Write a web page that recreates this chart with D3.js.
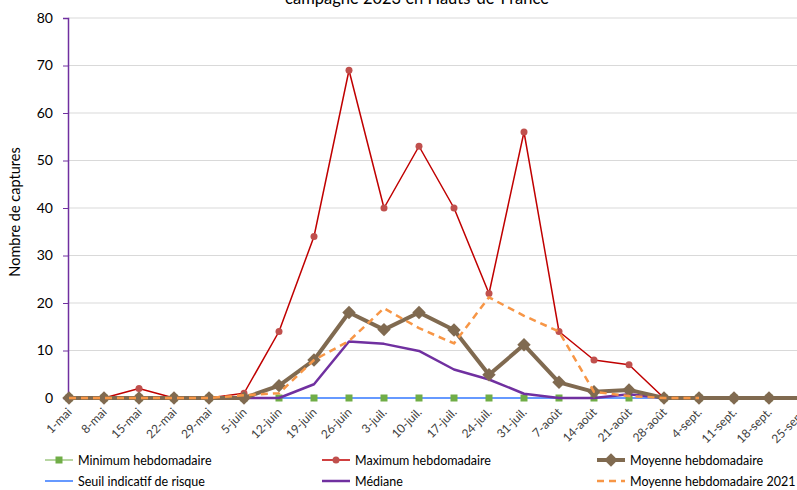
<!DOCTYPE html>
<html><head><meta charset="utf-8">
<script src="https://cdn.jsdelivr.net/npm/d3@7/dist/d3.min.js"></script>
<style>
body{margin:0;background:#fff;overflow:hidden}
svg{display:block;font-family:Lato,"Open Sans",sans-serif}
</style></head><body>
<svg id="c" width="797" height="490"></svg>
<script>
const categories = ["1-mai","8-mai","15-mai","22-mai","29-mai","5-juin","12-juin","19-juin","26-juin","3-juil.","10-juil.","17-juil.","24-juil.","31-juil.","7-août","14-août","21-août","28-août","4-sept.","11-sept.","18-sept.","25-sept."];
const minimum  = [0,0,0,0,0,0,0,0,0,0,0,0,0,0,0,0,0,0,0,0,0,0];
const maximum  = [0,0,2,0,0,1,14,34,69,40,53,40,22,56,14,8,7,0,0,0,0,0];
const moyenne  = [0,0,0,0,0,0,2.6,8,18,14.4,18,14.3,4.9,11.2,3.3,1.3,1.7,0,0,0,0,0];
const seuil    = [0,0,0,0,0,0,0,0,0,0,0,0,0,0,0,0,0,0,0,0,0,0];
const mediane  = [0,0,0,0,0,0,0,2.9,11.9,11.4,9.9,6,3.9,0.9,0,0,0.8,0,0,0,0,0];
const moy2021  = [0,0,0,0,0,0.6,1,8,12,18.9,14.7,11.5,21.2,17.3,14,1.3,0.4,0,0];
const yTicks   = [0,10,20,30,40,50,60,70,80];
const title    = "campagne 2023 en Hauts-de-France";
const yTitle   = "Nombre de captures";

const svg = d3.select("#c");
const x0 = 69, step = 35;
const x = d3.scalePoint().domain(categories).range([x0, x0 + step*(categories.length-1)]);
const y = d3.scaleLinear().domain([0,80]).range([398,18]);

// gridlines
svg.append("g").selectAll("line").data(yTicks.slice(1)).join("line")
  .attr("x1",68).attr("x2",797).attr("y1",d=>y(d)).attr("y2",d=>y(d))
  .attr("stroke","#d9d9d9").attr("stroke-width",1);

// y axis
const yAxis = svg.append("g").attr("transform","translate(68,0)")
  .call(d3.axisLeft(y).tickValues(yTicks).tickSize(5).tickPadding(10));
yAxis.select(".domain").attr("stroke","#7030A0").attr("stroke-width",1.5);
yAxis.selectAll(".tick line").attr("stroke","#7030A0");
yAxis.selectAll("text").attr("font-size",14).attr("fill","#000").attr("font-family","Lato,sans-serif");

// x axis labels
const xAxis = svg.append("g").attr("transform","translate(0,398)")
  .call(d3.axisBottom(x).tickSize(0).tickPadding(0));
xAxis.select(".domain").remove();
xAxis.selectAll("text")
  .attr("font-size",12).attr("fill","#404040").attr("font-family","Lato,sans-serif")
  .attr("text-anchor","end").attr("dy",null).attr("y",0)
  .attr("transform","translate(3,15) rotate(-45)");

// titles
svg.append("text").attr("x",417).attr("y",4).attr("text-anchor","middle")
  .attr("font-size",16.5).attr("fill","#000").text(title);
svg.append("text").attr("transform","translate(20,212) rotate(-90)").attr("text-anchor","middle")
  .attr("font-size",14.5).attr("fill","#000").text(yTitle);

const line = d3.line().x((d,i)=>x(categories[i])).y(d=>y(d));
const plot = svg.append("g");
function series(data, color, w, dash){
  plot.append("path").datum(data).attr("d",line).attr("fill","none")
    .attr("stroke",color).attr("stroke-width",w).attr("stroke-linejoin","round")
    .attr("stroke-dasharray",dash||null);
}
// Minimum line
series(minimum,"#70AD47",1);
// Seuil
series(seuil,"#6699FF",2);
// Minimum markers
plot.append("g").selectAll("rect").data(minimum).join("rect")
  .attr("x",(d,i)=>x(categories[i])-3.5).attr("y",d=>y(d)-3.5).attr("width",7).attr("height",7)
  .attr("fill","#70AD47");
// Médiane
series(mediane,"#7030A0",2.5);
// Maximum
series(maximum,"#C00000",1.5);
plot.append("g").selectAll("circle").data(maximum).join("circle")
  .attr("cx",(d,i)=>x(categories[i])).attr("cy",d=>y(d)).attr("r",3.5).attr("fill","#C0504D");
// Moyenne
series(moyenne,"#806A50",4);
plot.append("g").selectAll("path").data(moyenne).join("path")
  .attr("d",d3.symbol().type(d3.symbolSquare).size(90))
  .attr("transform",(d,i)=>`translate(${x(categories[i])},${y(d)}) rotate(45)`)
  .attr("fill","#806A50");
// Moyenne 2021
series(moy2021,"#F79646",2.5,"7,5");

// legend
const leg = svg.append("g").attr("font-size",12.5).attr("fill","#000");
const items = [
  {name:"Minimum hebdomadaire", x:45, y:460, type:"min"},
  {name:"Maximum hebdomadaire", x:322, y:460, type:"max"},
  {name:"Moyenne hebdomadaire", x:597, y:460, type:"moy"},
  {name:"Seuil indicatif de risque", x:45, y:481, type:"seuil"},
  {name:"Médiane", x:322, y:481, type:"med"},
  {name:"Moyenne hebdomadaire 2021", x:597, y:481, type:"m21"}
];
items.forEach(it=>{
  const g = leg.append("g").attr("transform",`translate(${it.x},${it.y})`);
  const L = 28;
  const ln = (c,w,dash)=>g.append("line").attr("x1",0).attr("x2",L).attr("y1",0).attr("y2",0)
    .attr("stroke",c).attr("stroke-width",w).attr("stroke-dasharray",dash||null);
  if(it.type==="min"){ln("#70AD47",1);g.append("rect").attr("x",L/2-3.5).attr("y",-3.5).attr("width",7).attr("height",7).attr("fill","#70AD47");}
  if(it.type==="max"){ln("#C00000",1.5);g.append("circle").attr("cx",L/2).attr("cy",0).attr("r",3.5).attr("fill","#C0504D");}
  if(it.type==="moy"){ln("#806A50",4);g.append("path").attr("d",d3.symbol().type(d3.symbolSquare).size(90)).attr("transform",`translate(${L/2},0) rotate(45)`).attr("fill","#806A50");}
  if(it.type==="seuil"){ln("#6699FF",2);}
  if(it.type==="med"){ln("#7030A0",2.5);}
  if(it.type==="m21"){ln("#F79646",2.5,"7,5");}
  g.append("text").attr("x",L+5).attr("y",4.5).text(it.name);
});
</script>
</body></html>
